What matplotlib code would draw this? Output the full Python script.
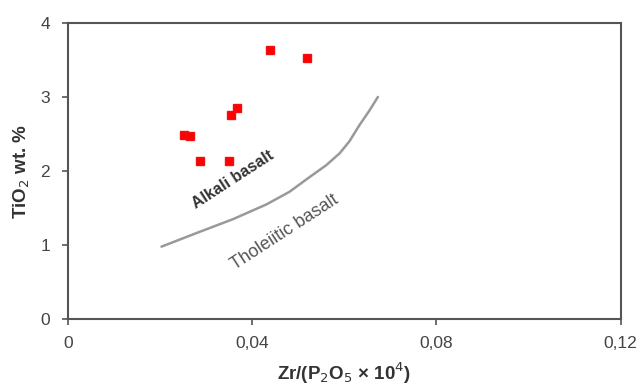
import matplotlib
matplotlib.use("Agg")
import matplotlib.pyplot as plt

# samples
zr_p2o5 = [0.0438, 0.0520, 0.0368, 0.0353, 0.0252, 0.0264, 0.0286, 0.0350]
tio2 = [3.64, 3.52, 2.85, 2.75, 2.49, 2.47, 2.13, 2.13]

# alkali / tholeiitic boundary
bound_x = [0.0203, 0.0286, 0.0358, 0.0431, 0.0481, 0.0525, 0.0561,
           0.0590, 0.0611, 0.0633, 0.0655, 0.0673]
bound_y = [0.98, 1.18, 1.35, 1.55, 1.72, 1.92, 2.08,
           2.24, 2.40, 2.62, 2.82, 3.00]

x_ticks = [0, 0.04, 0.08, 0.12]
x_ticklabels = ["0", "0,04", "0,08", "0,12"]
y_ticks = [0, 1, 2, 3, 4]

plt.rcParams.update({"font.family": "Liberation Sans"})

fig = plt.figure(figsize=(6.44, 3.87), dpi=100)
ax = fig.add_axes([0.1056, 0.175, 0.858, 0.766])

ax.plot(bound_x, bound_y, color="#999999", lw=1.8, solid_capstyle="round",
        solid_joinstyle="round")
ax.plot(zr_p2o5, tio2, ls="none", marker="s", ms=5.5, color="#ff0000", mec="#ee1111")

ax.text(0.0358, 1.88, "Alkali basalt", rotation=33, ha="center", va="center",
        fontsize=11.5, fontweight="bold", color="#333333")
ax.text(0.0470, 1.18, "Tholeiitic basalt", rotation=33, ha="center", va="center",
        fontsize=13, color="#555555")

ax.set_xlim(0, 0.12)
ax.set_ylim(0, 4)
ax.set_xticks(x_ticks)
ax.set_xticklabels(x_ticklabels)
ax.set_yticks(y_ticks)
for s in ax.spines.values():
    s.set_color("#555555")
    s.set_linewidth(1.5)
ax.tick_params(axis="both", colors="#555555", labelcolor="#444444",
               labelsize=12.5, length=4, width=1.2)
ax.tick_params(axis="x", pad=8)
ax.tick_params(axis="y", pad=9)

ax.set_xlabel("Zr/(P$_2$O$_5$ × 10$^4$)", fontsize=13.5, fontweight="bold",
              color="#333333", labelpad=7)
ax.set_ylabel("TiO$_2$ wt. %", fontsize=13.5, fontweight="bold",
              color="#333333", labelpad=6)

fig.savefig("out.png", dpi=100)
